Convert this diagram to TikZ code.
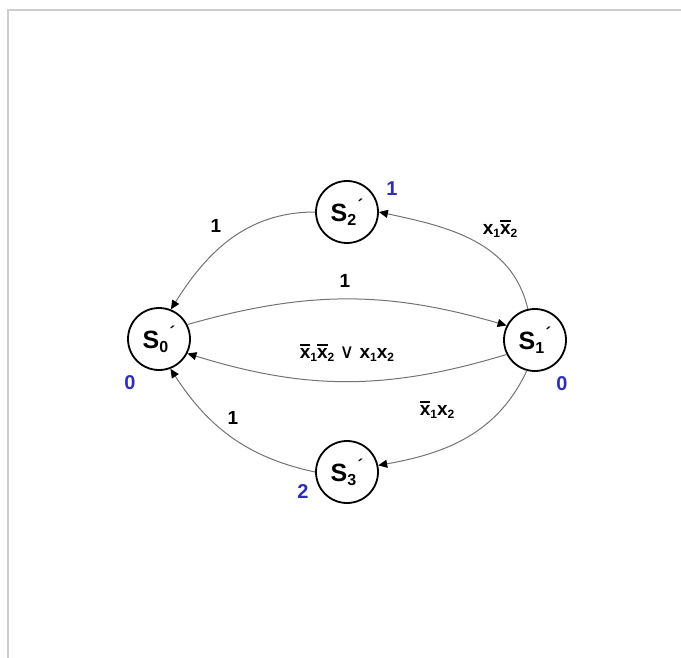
\documentclass[tikz,border=0pt]{standalone}
\usepackage{fontspec}
\setmainfont{Liberation Sans}
\newfontfamily\orfont{DejaVu Sans}
\usetikzlibrary{arrows.meta}

\definecolor{edgegray}{RGB}{115,115,115}
\definecolor{numblue}{RGB}{45,45,185}
\definecolor{framegray}{RGB}{205,205,205}

% state name with subscript and prime
\newcommand{\sname}[1]{S\raisebox{-4pt}{\fontsize{16}{16}\selectfont #1}\raisebox{10pt}{\fontsize{17}{17}\selectfont\kern1.5pt ´}}
% x with overline
\newcommand{\xb}{\leavevmode\rlap{\raisebox{13pt}{\rule{10.5pt}{1.4pt}}}x}
\newcommand{\ix}[1]{\raisebox{-3pt}{\fontsize{12}{12}\selectfont #1}}

\tikzset{
  state/.style={circle, draw, line width=1.8pt, minimum size=62pt, inner sep=0pt,
    font=\fontsize{25}{25}\selectfont\bfseries},
  trans/.style={draw=edgegray, line width=1pt, -{Triangle[length=9pt,width=8pt,color=black]}},
  elabel/.style={font=\fontsize{19}{19}\selectfont\bfseries, inner sep=0pt},
  code/.style={text=numblue, font=\fontsize{20}{20}\selectfont\bfseries, inner sep=0pt}
}

\begin{document}
\begin{tikzpicture}[x=1pt, y=1pt]
  \useasboundingbox (0,0) rectangle (681,-658);
  % frame
  \draw[framegray, line width=2pt] (8,-658) -- (8,-10) -- (681,-10);

  \node[state] (s0) at (159,-339) {\sname{0}};
  \node[state] (s1) at (535,-340) {\sname{1}};
  \node[state] (s2) at (347,-212) {\sname{2}};
  \node[state] (s3) at (347,-472) {\sname{3}};

  \draw[trans] (s2.west) to[out=180, in=58] (s0.68);
  \draw[trans] (s1.103) to[out=103, in=-12] (s2.east);
  \draw[trans] (s0.27) to[bend left=16] (s1.153);
  \draw[trans] (s1.207) to[bend left=17] (s0.-27);
  \draw[trans] (s1.-105) to[out=-115, in=10] (s3.12);
  \draw[trans] (s3.west) to[out=168, in=-57] (s0.-69);

  \node[elabel] (l20) at (216,-226) {1};
  \node[elabel] (l12) at (500,-229) {x\ix{1}\xb\ix{2}};
  \node[elabel] (l01) at (345,-281) {1};
  \node[elabel] (l10) at (347,-353) {\xb\ix{1}\xb\ix{2} {\orfont\mdseries\fontsize{20}{20}\selectfont ∨} x\ix{1}x\ix{2}};
  \node[elabel] (l13) at (437,-410) {\xb\ix{1}x\ix{2}};
  \node[elabel] (l30) at (233,-418) {1};

  \node[code] (c0) at (130,-383) {0};
  \node[code] (c1) at (562,-384) {0};
  \node[code] (c2) at (392,-189) {1};
  \node[code] (c3) at (303,-492) {2};
\end{tikzpicture}
\end{document}
